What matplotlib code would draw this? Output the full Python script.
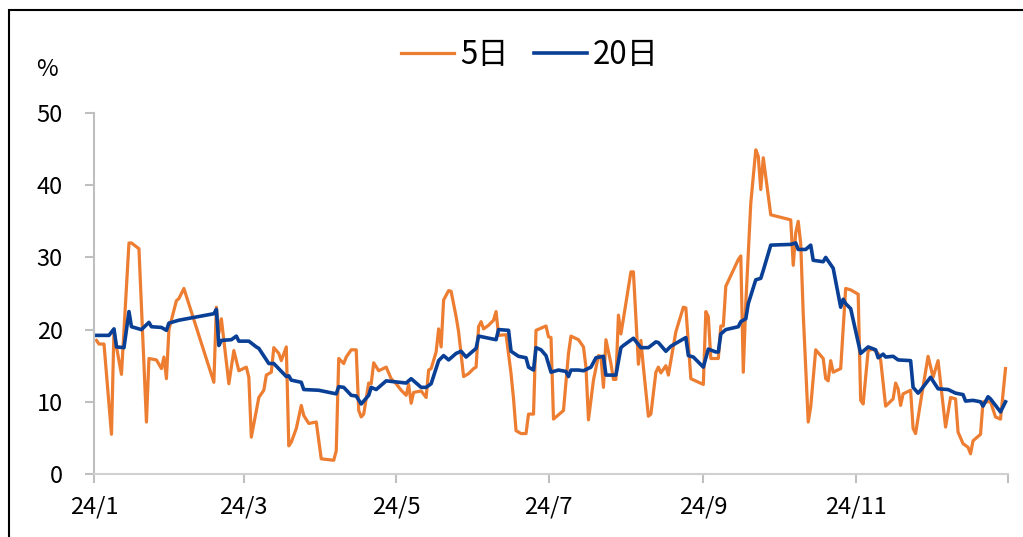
import pandas as pd
import matplotlib
matplotlib.use('Agg')
import matplotlib.pyplot as plt
from matplotlib.patches import Rectangle

plt.rcParams['font.family'] = ['Noto Sans CJK SC', 'DejaVu Sans']

# 5日 series (dates as MM-DD in 2024, values in %)
d5_dates = ['01-02', '01-03', '01-05', '01-08', '01-09', '01-10', '01-12', '01-15', '01-16', '01-19',
            '01-22', '01-23', '01-26', '01-28', '01-29', '01-30', '01-31', '02-03', '02-04', '02-06',
            '02-18', '02-19', '02-20', '02-21', '02-24', '02-26', '02-28', '03-02', '03-03', '03-04',
            '03-06', '03-07', '03-09', '03-10', '03-12', '03-13', '03-15', '03-16', '03-18', '03-19',
            '03-20', '03-22', '03-24', '03-25', '03-27', '03-30', '04-01', '04-06', '04-07', '04-08',
            '04-10', '04-11', '04-13', '04-15', '04-16', '04-17', '04-18', '04-20', '04-21', '04-22',
            '04-24', '04-27', '04-29', '05-01', '05-03', '05-05', '05-06', '05-07', '05-08', '05-11',
            '05-13', '05-14', '05-15', '05-17', '05-18', '05-19', '05-20', '05-22', '05-23', '05-25',
            '05-26', '05-28', '05-30', '06-01', '06-02', '06-03', '06-04', '06-05', '06-07', '06-09',
            '06-10', '06-11', '06-14', '06-16', '06-17', '06-18', '06-20', '06-22', '06-23', '06-25',
            '06-26', '06-30', '07-01', '07-02', '07-03', '07-07', '07-09', '07-10', '07-13', '07-15',
            '07-16', '07-17', '07-19', '07-21', '07-22', '07-23', '07-24', '07-26', '07-27', '07-28',
            '07-29', '07-30', '07-31', '08-03', '08-04', '08-06', '08-07', '08-08', '08-10', '08-11',
            '08-13', '08-14', '08-15', '08-17', '08-18', '08-21', '08-24', '08-25', '08-27', '09-01',
            '09-02', '09-03', '09-04', '09-07', '09-08', '09-09', '09-10', '09-15', '09-16', '09-17',
            '09-18', '09-20', '09-22', '09-23', '09-24', '09-25', '09-26', '09-28', '10-06', '10-07',
            '10-08', '10-09', '10-10', '10-11', '10-13', '10-14', '10-16', '10-19', '10-20', '10-21',
            '10-22', '10-23', '10-26', '10-28', '10-30', '11-02', '11-03', '11-04', '11-06', '11-08',
            '11-10', '11-11', '11-13', '11-16', '11-17', '11-18', '11-19', '11-20', '11-23', '11-24',
            '11-25', '11-27', '11-30', '12-02', '12-04', '12-07', '12-09', '12-11', '12-12', '12-14',
            '12-16', '12-17', '12-18', '12-21', '12-22', '12-25', '12-27', '12-29', '12-31']
d5_values = [18.5, 18.0, 18.0, 5.5, 20.0, 17.6, 13.8, 32.0, 32.0, 31.2,
             7.2, 16.0, 15.8, 14.6, 16.2, 13.2, 20.0, 24.0, 24.3, 25.7,
             12.7, 23.1, 19.5, 21.5, 12.5, 17.1, 14.3, 14.8, 13.4, 5.1,
             8.8, 10.6, 11.6, 13.7, 14.1, 17.5, 16.7, 15.7, 17.6, 3.9,
             4.4, 6.3, 9.5, 8.1, 7.0, 7.2, 2.1, 1.9, 3.2, 16.0,
             15.3, 16.2, 17.2, 17.2, 8.8, 7.9, 8.3, 12.6, 12.5, 15.4,
             14.3, 14.8, 13.2, 12.5, 11.6, 10.9, 12.4, 9.8, 11.3, 11.5,
             10.6, 14.4, 14.6, 16.9, 20.1, 17.6, 24.1, 25.4, 25.3, 21.8,
             19.7, 13.5, 13.9, 14.6, 14.8, 20.4, 21.1, 20.1, 20.6, 21.3,
             22.5, 19.2, 19.3, 13.9, 10.4, 6.0, 5.6, 5.6, 8.3, 8.3,
             19.9, 20.5, 19.0, 18.9, 7.6, 8.8, 16.7, 19.1, 18.6, 17.6,
             14.8, 7.5, 13.0, 16.4, 16.3, 12.0, 18.6, 15.3, 13.1, 13.1,
             22.0, 19.4, 21.5, 28.0, 28.0, 15.2, 18.5, 14.8, 8.0, 8.3,
             14.1, 14.8, 14.0, 15.0, 13.7, 19.7, 23.1, 23.0, 13.2, 12.4,
             22.5, 21.8, 16.0, 16.0, 20.5, 20.5, 26.0, 29.7, 30.2, 14.1,
             23.6, 37.5, 44.9, 44.0, 39.4, 43.8, 41.2, 35.9, 35.2, 28.9,
             33.4, 35.0, 31.9, 22.2, 7.2, 9.3, 17.2, 16.0, 13.2, 12.9,
             15.7, 14.1, 14.6, 25.7, 25.5, 24.9, 10.2, 9.7, 17.1, 17.3,
             16.7, 15.8, 9.4, 10.4, 12.6, 11.8, 9.5, 11.1, 11.6, 6.3,
             5.6, 10.0, 16.3, 13.4, 15.7, 6.5, 10.6, 10.4, 5.8, 4.2,
             3.7, 2.8, 4.6, 5.5, 10.0, 10.0, 7.9, 7.6, 14.6]

# 20日 series
d20_dates = ['01-02', '01-03', '01-07', '01-09', '01-10', '01-13', '01-15', '01-16', '01-20', '01-23',
             '01-24', '01-28', '01-30', '01-31', '02-04', '02-18', '02-19', '02-20', '02-21', '02-25',
             '02-27', '02-28', '03-03', '03-06', '03-07', '03-11', '03-13', '03-18', '03-19', '03-20',
             '03-24', '03-25', '03-31', '04-07', '04-08', '04-10', '04-13', '04-15', '04-17', '04-20',
             '04-21', '04-23', '04-27', '05-05', '05-07', '05-11', '05-13', '05-15', '05-18', '05-20',
             '05-22', '05-25', '05-27', '05-29', '06-02', '06-03', '06-10', '06-11', '06-15', '06-16',
             '06-19', '06-22', '06-23', '06-25', '06-26', '06-28', '06-30', '07-02', '07-05', '07-08',
             '07-09', '07-10', '07-13', '07-15', '07-18', '07-20', '07-23', '07-24', '07-28', '07-30',
             '07-31', '08-04', '08-07', '08-10', '08-13', '08-14', '08-17', '08-19', '08-25', '08-26',
             '08-28', '09-01', '09-03', '09-06', '09-07', '09-08', '09-10', '09-15', '09-16', '09-18',
             '09-19', '09-22', '09-24', '09-25', '09-28', '10-06', '10-08', '10-09', '10-12', '10-14',
             '10-15', '10-19', '10-20', '10-23', '10-26', '10-27', '10-28', '10-30', '11-03', '11-06',
             '11-09', '11-10', '11-12', '11-13', '11-16', '11-18', '11-23', '11-24', '11-26', '11-27',
             '12-01', '12-04', '12-08', '12-11', '12-14', '12-15', '12-18', '12-21', '12-22', '12-24',
             '12-25', '12-29', '12-31']
d20_values = [19.2, 19.2, 19.2, 20.1, 17.6, 17.5, 22.5, 20.4, 20.0, 21.0,
              20.4, 20.3, 19.9, 20.9, 21.3, 22.2, 22.8, 17.8, 18.5, 18.6,
              19.1, 18.4, 18.4, 17.6, 17.4, 15.3, 15.3, 13.5, 13.6, 13.0,
              12.7, 11.7, 11.6, 11.1, 12.1, 12.0, 10.9, 10.8, 9.7, 10.9,
              12.0, 11.7, 12.9, 12.6, 13.2, 12.0, 12.0, 12.5, 15.7, 16.4,
              15.8, 16.7, 17.0, 16.2, 17.4, 19.1, 18.6, 20.0, 19.9, 17.0,
              16.3, 16.1, 14.8, 14.4, 17.5, 17.2, 16.4, 14.1, 14.4, 14.2,
              13.5, 14.4, 14.4, 14.3, 14.8, 16.1, 16.3, 13.7, 13.7, 17.5,
              17.8, 18.8, 17.5, 17.5, 18.3, 18.2, 17.0, 17.7, 18.9, 16.4,
              16.2, 14.8, 17.3, 16.9, 16.9, 19.4, 20.0, 20.4, 21.1, 21.5,
              23.6, 26.9, 27.1, 28.2, 31.7, 31.8, 32.0, 31.1, 31.1, 31.7,
              29.6, 29.4, 30.0, 28.5, 23.1, 24.2, 23.6, 22.9, 16.7, 17.6,
              17.2, 16.1, 16.6, 16.2, 16.3, 15.8, 15.7, 12.0, 11.2, 11.6,
              13.4, 11.8, 11.7, 11.2, 11.0, 10.1, 10.2, 10.0, 9.4, 10.7,
              10.4, 8.6, 10.0]

tick_dates = ['2024-01-01', '2024-03-01', '2024-05-01', '2024-07-01', '2024-09-01', '2024-11-01', '2025-01-01']
tick_labels = ['24/1', '24/3', '24/5', '24/7', '24/9', '24/11', '']

x5 = pd.to_datetime(['2024-' + d for d in d5_dates])
x20 = pd.to_datetime(['2024-' + d for d in d20_dates])

fig = plt.figure(figsize=(10.23, 5.37), dpi=100)
ax = fig.add_axes([94 / 1023, 1 - 474 / 537, 914 / 1023, 361 / 537])

ax.plot(x5, d5_values, color='#ED7D31', lw=2.3, label='5日')
ax.plot(x20, d20_values, color='#0A3F96', lw=2.6, label='20日')

ax.set_xlim(pd.Timestamp('2024-01-01'), pd.Timestamp('2025-01-01'))
ax.set_ylim(0, 50)
ax.set_yticks([0, 10, 20, 30, 40, 50])
ax.set_xticks(pd.to_datetime(tick_dates))
ax.set_xticklabels(tick_labels)

gray = '#BFBFBF'
for s in ['top', 'right']:
    ax.spines[s].set_visible(False)
for s in ['left', 'bottom']:
    ax.spines[s].set_color(gray)
    ax.spines[s].set_linewidth(1.5)
ax.spines['bottom'].set_color('#D0D0D0')
ax.tick_params(axis='both', colors=gray, length=6.5, width=1.5, labelsize=17, labelcolor='black')
ax.tick_params(axis='y', pad=16)
ax.tick_params(axis='x', pad=9)

fig.text(47 / 1023, 1 - 70 / 537, '%', fontsize=17, ha='center', va='center')

fig.legend(loc='center', bbox_to_anchor=(530 / 1023, 1 - 55 / 537), ncol=2, frameon=False,
           fontsize=22.5, handlelength=1.7, handletextpad=0.2, columnspacing=0.8)

# outer frame
fig.patches.append(Rectangle((9 / 1023, -0.1), 1.2, 1 - 10 / 537 + 0.1, transform=fig.transFigure,
                             fill=False, edgecolor='black', lw=1.5))

fig.savefig('out.png', dpi=100)
